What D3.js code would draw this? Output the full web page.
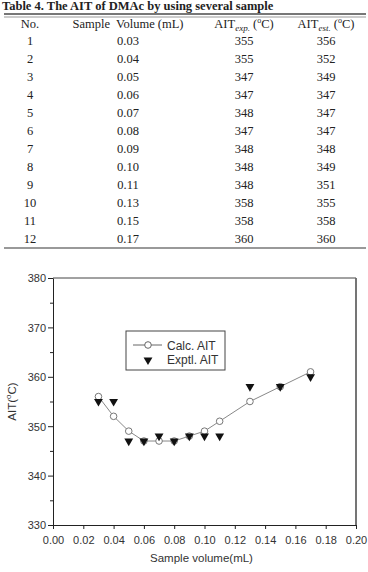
<!DOCTYPE html>
<html>
<head>
<meta charset="utf-8">
<script src="https://cdn.jsdelivr.net/npm/d3@7"></script>
<style>
  body { margin: 0; background: #fff; }
  svg { display: block; }
</style>
</head>
<body>
<div id="chart"></div>
<script>
// table data
const sampleNo = [1, 2, 3, 4, 5, 6, 7, 8, 9, 10, 11, 12];
const sampleVolume = [0.03, 0.04, 0.05, 0.06, 0.07, 0.08, 0.09, 0.10, 0.11, 0.13, 0.15, 0.17];
const aitExp = [355, 355, 347, 347, 348, 347, 348, 348, 348, 358, 358, 360];
const aitEst = [356, 352, 349, 347, 347, 347, 348, 349, 351, 355, 358, 360];
// plotted calc values (last point sits a bit above 360 in the figure)
const calcPlot = [356, 352, 349, 347, 347, 347, 348, 349, 351, 355, 358, 361];
const xTicks = [0, 0.02, 0.04, 0.06, 0.08, 0.10, 0.12, 0.14, 0.16, 0.18, 0.20];
const yTicks = [330, 340, 350, 360, 370, 380];
const yMinor = [335, 345, 355, 365, 375];

const width = 368;
const height = 572;

const svg = d3.select("#chart").append("svg")
  .attr("width", width)
  .attr("height", height);

// ---- table ----
const serif = "'Liberation Serif', 'Times New Roman', serif";
const cols = [30, 128, 244, 326];

svg.append("text")
  .attr("x", 2).attr("y", 9.5)
  .attr("font-family", serif).attr("font-weight", "bold").attr("font-size", 12.5)
  .attr("fill", "#222")
  .text("Table 4. The AIT of DMAc by using several sample");

svg.append("line").attr("x1", 4).attr("x2", 366).attr("y1", 14).attr("y2", 14)
  .attr("stroke", "#777").attr("stroke-width", 2);
svg.append("line").attr("x1", 4).attr("x2", 366).attr("y1", 17).attr("y2", 17)
  .attr("stroke", "#999").attr("stroke-width", 1);

const head = svg.append("g")
  .attr("font-family", serif).attr("font-size", 12.5).attr("fill", "#222")
  .attr("text-anchor", "middle");
head.append("text").attr("x", cols[0]).attr("y", 27.5).text("No.");
head.append("text").attr("x", cols[1]).attr("y", 27.5).attr("xml:space", "preserve").text("Sample  Volume (mL)");

function aitHeader(x, sub) {
  const t = head.append("text").attr("x", x).attr("y", 27.5);
  t.append("tspan").text("AIT");
  t.append("tspan").attr("font-style", "italic").attr("font-size", 9).attr("dy", 3).text(sub);
  t.append("tspan").attr("dy", -3).text(" (");
  t.append("tspan").attr("font-size", 8).attr("dy", -5).text("o");
  t.append("tspan").attr("dy", 5).text("C)");
}
aitHeader(cols[2], "exp.");
aitHeader(cols[3], "est.");

const rows = svg.append("g")
  .attr("font-family", serif).attr("font-size", 12.5).attr("fill", "#222")
  .attr("text-anchor", "middle");
sampleNo.forEach((n, i) => {
  const y = 45 + i * 18;
  rows.append("text").attr("x", cols[0]).attr("y", y).text(n);
  rows.append("text").attr("x", cols[1]).attr("y", y).text(sampleVolume[i].toFixed(2));
  rows.append("text").attr("x", cols[2]).attr("y", y).text(aitExp[i]);
  rows.append("text").attr("x", cols[3]).attr("y", y).text(aitEst[i]);
});

svg.append("line").attr("x1", 4).attr("x2", 366).attr("y1", 248).attr("y2", 248)
  .attr("stroke", "#777").attr("stroke-width", 1.5);

// ---- chart ----
const sans = "'Liberation Sans', Arial, sans-serif";
const margin = { top: 278, left: 53, bottom: 47, right: 12 };
const iwidth = width - margin.left - margin.right;
const iheight = height - margin.top - margin.bottom;

const x = d3.scaleLinear().domain([0, 0.2]).range([0, iwidth]);
const y = d3.scaleLinear().domain([330, 380]).range([iheight, 0]);

const g = svg.append("g")
  .attr("transform", `translate(${margin.left},${margin.top})`);

// frame
g.append("line").attr("x1", 0).attr("x2", iwidth).attr("y1", 0).attr("y2", 0)
  .attr("stroke", "#444").attr("stroke-width", 1);
g.append("line").attr("x1", iwidth).attr("x2", iwidth).attr("y1", 0).attr("y2", iheight)
  .attr("stroke", "#666").attr("stroke-width", 1.8);

const xAxis = g.append("g")
  .attr("transform", `translate(0,${iheight})`)
  .call(d3.axisBottom(x).tickValues(xTicks).tickFormat(d3.format(".2f")).tickSize(4).tickSizeOuter(0));

const yAxis = g.append("g")
  .call(d3.axisLeft(y).tickValues(yTicks).tickFormat(d3.format("d")).tickSize(5).tickSizeOuter(0));

g.append("g")
  .call(d3.axisLeft(y).tickValues(yMinor).tickFormat("").tickSize(3).tickSizeOuter(0))
  .select(".domain").remove();

g.selectAll(".tick line, .domain").attr("stroke", "#222");
[xAxis, yAxis].forEach(a => a.selectAll("text")
  .attr("font-family", sans).attr("font-size", 11).attr("fill", "#333"));
xAxis.selectAll("text").attr("dy", "1.1em");
yAxis.selectAll("text").attr("x", -7).attr("dy", "0.36em");

// axis titles
g.append("text")
  .attr("x", iwidth / 2 - 3).attr("y", iheight + 37)
  .attr("text-anchor", "middle")
  .attr("font-family", sans).attr("font-size", 11.5).attr("fill", "#333")
  .text("Sample volume(mL)");

const yl = g.append("text")
  .attr("transform", `translate(-37,${iheight / 2}) rotate(-90)`)
  .attr("text-anchor", "middle")
  .attr("font-family", sans).attr("font-size", 11.5).attr("fill", "#333");
yl.append("tspan").text("AIT(");
yl.append("tspan").attr("font-size", 8).attr("dy", -5).text("o");
yl.append("tspan").attr("dy", 5).text("C)");

// calc line + circles
const line = d3.line()
  .x((d, i) => x(sampleVolume[i]))
  .y(d => y(d));

g.append("path")
  .datum(calcPlot)
  .attr("d", line)
  .attr("fill", "none")
  .attr("stroke", "#888")
  .attr("stroke-width", 1);

g.selectAll(".calc")
  .data(calcPlot)
  .enter()
  .append("circle")
  .attr("class", "calc")
  .attr("cx", (d, i) => x(sampleVolume[i]))
  .attr("cy", d => y(d))
  .attr("r", 3.3)
  .attr("fill", "#fff")
  .attr("stroke", "#777")
  .attr("stroke-width", 1);

// exptl triangles
const tri = d3.symbol().type(d3.symbolTriangle).size(34);
g.selectAll(".expt")
  .data(aitExp)
  .enter()
  .append("path")
  .attr("class", "expt")
  .attr("d", tri)
  .attr("transform", (d, i) => `translate(${x(sampleVolume[i])},${y(d)}) rotate(180)`)
  .attr("fill", "#111");

// legend
const lg = svg.append("g").attr("transform", "translate(126,331)");
lg.append("rect").attr("width", 99).attr("height", 39)
  .attr("fill", "#fff").attr("stroke", "#444").attr("stroke-width", 1);
lg.append("line").attr("x1", 7).attr("x2", 36).attr("y1", 14).attr("y2", 14)
  .attr("stroke", "#666").attr("stroke-width", 1);
lg.append("circle").attr("cx", 22).attr("cy", 14).attr("r", 3.3)
  .attr("fill", "#fff").attr("stroke", "#666");
lg.append("path").attr("d", tri).attr("transform", "translate(22,29) rotate(180)").attr("fill", "#111");
lg.append("text").attr("x", 41).attr("y", 18.5)
  .attr("font-family", sans).attr("font-size", 12).attr("fill", "#333").text("Calc. AIT");
lg.append("text").attr("x", 41).attr("y", 33)
  .attr("font-family", sans).attr("font-size", 12).attr("fill", "#333").text("Exptl. AIT");
</script>
</body>
</html>
